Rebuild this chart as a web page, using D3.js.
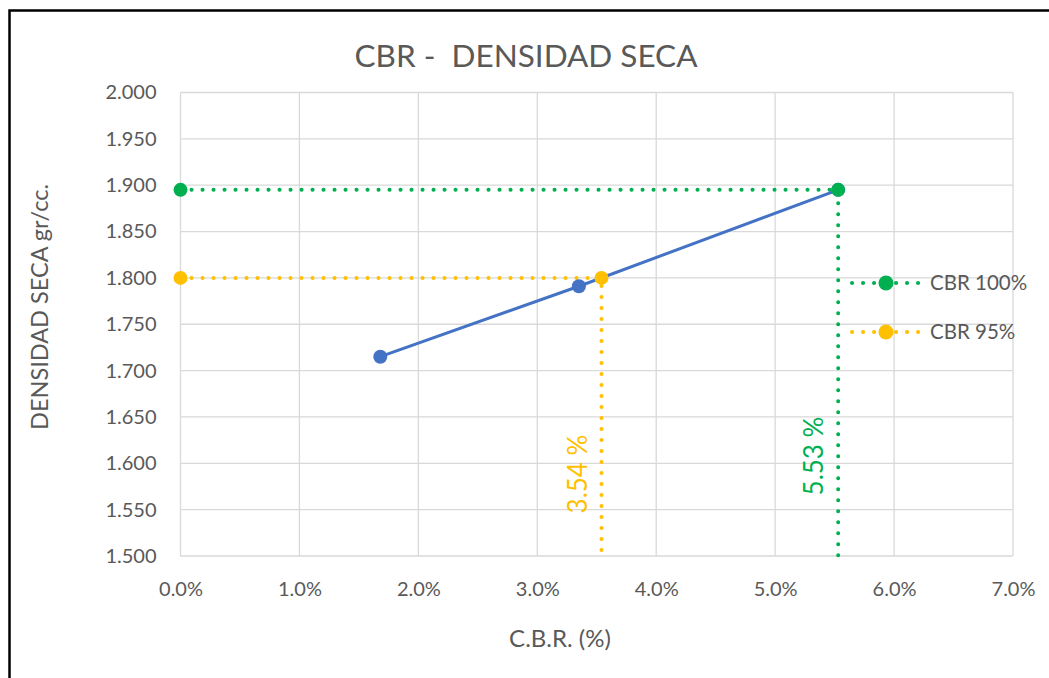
<!DOCTYPE html>
<html>
<head>
<meta charset="utf-8">
<script src="https://cdn.jsdelivr.net/npm/d3@7"></script>
<style>
  body { margin: 0; background: #fff; }
  text { font-family: Lato, "Noto Sans", sans-serif; fill: #595959; }
</style>
</head>
<body>
<div id="chart-area"></div>
<script>
// data
var cbrValues = [0.0168, 0.0335, 0.0553];
var densValues = [1.715, 1.791, 1.895];
var cbr100 = [0.0553, 1.895];
var cbr95 = [0.0354, 1.800];
var xTicks = [0, 0.01, 0.02, 0.03, 0.04, 0.05, 0.06, 0.07];
var yTicks = [1.5, 1.55, 1.6, 1.65, 1.7, 1.75, 1.8, 1.85, 1.9, 1.95, 2.0];

var W = 1049, H = 678;
var margin = { left: 180.5, right: 36, top: 92.5, bottom: 122 };
var width = W - margin.left - margin.right;
var height = H - margin.top - margin.bottom;

var blue = "#4472C4", green = "#00B050", yellow = "#FFC000";

var svg = d3.select("#chart-area").append("svg")
    .attr("width", W)
    .attr("height", H);

// frame
svg.append("rect")
    .attr("x", 9.5).attr("y", 10.5)
    .attr("width", 1100).attr("height", 700)
    .attr("fill", "none")
    .attr("stroke", "#000")
    .attr("stroke-width", 2.5);

var g = svg.append("g")
    .attr("transform", "translate(" + margin.left + ", " + margin.top + ")");

var x = d3.scaleLinear().domain([0, 0.07]).range([0, width]);
var y = d3.scaleLinear().domain([1.5, 2.0]).range([height, 0]);

// grid
g.append("g").selectAll("line").data(yTicks).enter().append("line")
    .attr("x1", 0).attr("x2", width)
    .attr("y1", (d) => y(d)).attr("y2", (d) => y(d))
    .attr("stroke", "#d9d9d9").attr("stroke-width", 1.3);
g.append("g").selectAll("line").data(xTicks).enter().append("line")
    .attr("y1", 0).attr("y2", height)
    .attr("x1", (d) => x(d)).attr("x2", (d) => x(d))
    .attr("stroke", "#d9d9d9").attr("stroke-width", 1.3);

// axes (labels only)
var xAxis = d3.axisBottom(x).tickValues(xTicks).tickSize(0).tickPadding(26)
    .tickFormat(d3.format(".1%"));
var yAxis = d3.axisLeft(y).tickValues(yTicks).tickSize(0).tickPadding(24)
    .tickFormat(d3.format(".3f"));
var xaxg = g.append("g").attr("transform", "translate(0, " + height + ")").call(xAxis);
var yaxg = g.append("g").call(yAxis);
[xaxg, yaxg].forEach(function(a) {
    a.select(".domain").remove();
    a.selectAll("text").attr("font-size", "20px").attr("fill", "#595959")
        .style("font-family", "Lato, 'Noto Sans', sans-serif");
});

// reference dotted lines
function dotted(pts, color) {
    g.append("path")
        .attr("d", d3.line().x((d) => x(d[0])).y((d) => y(d[1]))(pts))
        .attr("fill", "none")
        .attr("stroke", color)
        .attr("stroke-width", 4)
        .attr("stroke-linecap", "round")
        .attr("stroke-dasharray", "0.1 10.9");
}
dotted([[0, cbr100[1]], cbr100, [cbr100[0], 1.5]], green);
dotted([[0, cbr95[1]], cbr95, [cbr95[0], 1.5]], yellow);

// main series
var pts = cbrValues.map((d, i) => [d, densValues[i]]);
g.append("path")
    .attr("d", d3.line().x((d) => x(d[0])).y((d) => y(d[1]))(pts))
    .attr("fill", "none")
    .attr("stroke", blue)
    .attr("stroke-width", 3);
g.selectAll(".pt").data(pts).enter().append("circle")
    .attr("cx", (d) => x(d[0])).attr("cy", (d) => y(d[1]))
    .attr("r", 7).attr("fill", blue);

// reference markers
[[[0, cbr100[1]], green], [cbr100, green], [[0, cbr95[1]], yellow], [cbr95, yellow]]
    .forEach(function(m) {
        g.append("circle")
            .attr("cx", x(m[0][0])).attr("cy", y(m[0][1]))
            .attr("r", 7).attr("fill", m[1]);
    });

// rotated value labels
function vlabel(v, color, yc) {
    g.append("text")
        .attr("transform", "translate(" + (x(v) - 24) + "," + yc + ") rotate(-90)")
        .attr("text-anchor", "middle")
        .attr("dy", "0.35em")
        .attr("font-size", "26px")
        .style("fill", color)
        .text((v * 100).toFixed(2) + " %");
}
vlabel(cbr95[0], yellow, 474 - margin.top);
vlabel(cbr100[0], green, 456 - margin.top);

// legend
[["CBR 100%", green, 283], ["CBR 95%", yellow, 332]].forEach(function(l) {
    var lg = svg.append("g").attr("transform", "translate(852," + l[2] + ")");
    lg.append("line")
        .attr("x1", 0).attr("x2", 70)
        .attr("stroke", l[1]).attr("stroke-width", 4)
        .attr("stroke-linecap", "round")
        .attr("stroke-dasharray", "0.1 10.9");
    lg.append("circle").attr("cx", 34).attr("r", 7.5).attr("fill", l[1]);
    lg.append("text").attr("x", 78).attr("dy", "0.35em")
        .attr("font-size", "20.5px").text(l[0]);
});

// titles
svg.append("text")
    .attr("x", 526).attr("y", 67)
    .attr("text-anchor", "middle")
    .attr("font-size", "31.5px")
    .attr("xml:space", "preserve")
    .text("CBR -  DENSIDAD SECA");
svg.append("text")
    .attr("x", 560).attr("y", 647)
    .attr("text-anchor", "middle")
    .attr("font-size", "24px")
    .text("C.B.R. (%)");
svg.append("text")
    .attr("transform", "translate(40,307) rotate(-90)")
    .attr("text-anchor", "middle")
    .attr("dy", "0.35em")
    .attr("font-size", "23.5px")
    .text("DENSIDAD SECA gr/cc.");
</script>
</body>
</html>
